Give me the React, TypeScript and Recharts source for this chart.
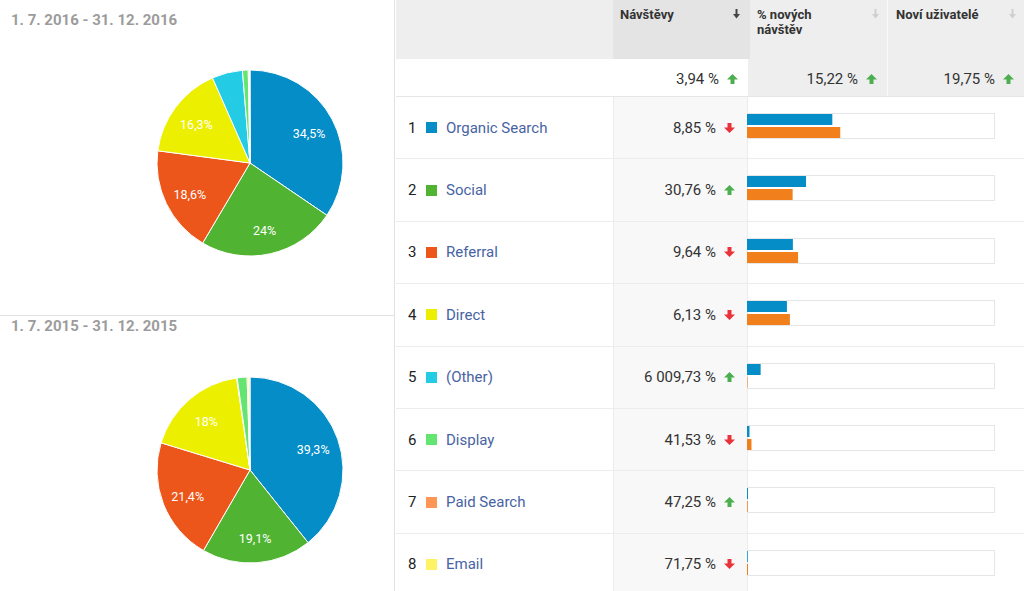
import { PieChart, Pie, Cell, BarChart, Bar, XAxis, YAxis } from "recharts";

const CHANNELS = [
  "Organic Search",
  "Social",
  "Referral",
  "Direct",
  "(Other)",
  "Display",
  "Paid Search",
  "Email",
];
const CHANNEL_COLORS = [
  "#058dc7",
  "#50b432",
  "#ed561b",
  "#edef00",
  "#24cbe5",
  "#64e572",
  "#ff9655",
  "#fff263",
];

// share of visits per channel (pie slices)
const SHARE_2016 = [34.5, 24, 18.6, 16.3, 5.3, 1.0, 0.2, 0.1];
const SHARE_2015 = [39.3, 19.1, 21.4, 18, 0.1, 1.7, 0.2, 0.3];

// visits bars (relative to current period total)
const VISITS_CURRENT = [34.4, 23.8, 18.5, 16.1, 5.5, 1.0, 0.4, 0.3];
const VISITS_PREVIOUS = [37.6, 18.4, 20.6, 17.3, 0.2, 1.8, 0.3, 0.4];

const CHANGE_LABELS = [
  "8,85 %",
  "30,76 %",
  "9,64 %",
  "6,13 %",
  "6 009,73 %",
  "41,53 %",
  "47,25 %",
  "71,75 %",
];
const CHANGE_UP = [false, true, false, false, true, false, true, false];

const COLUMN_TITLES = ["Návštěvy", "% nových\nnávštěv", "Noví uživatelé"];
const SUMMARY_LABELS = ["3,94 %", "15,22 %", "19,75 %"];
const PERIOD_LABELS = ["1. 7. 2016 - 31. 12. 2016", "1. 7. 2015 - 31. 12. 2015"];

const FONT = "Roboto, Arial, sans-serif";
const RADIAN = Math.PI / 180;

const TABLE_X = 396;
const COL2_X = 613;
const COL3_X = 748;
const COL4_X = 887;
const HEADER_H = 59;
const ROW_TOP = 97;
const ROW_H = 62.4;

function renderSliceLabel(props: any) {
  const { cx, cy, midAngle, outerRadius, value } = props;
  if (value < 10) return null;
  const r = outerRadius * 0.72;
  const x = cx + r * Math.cos(-midAngle * RADIAN);
  const y = cy + r * Math.sin(-midAngle * RADIAN) + 2;
  return (
    <text
      x={x}
      y={y}
      fill="#fff"
      fontSize={12.5}
      fontFamily={FONT}
      textAnchor="middle"
      dominantBaseline="central"
    >
      {String(value).replace(".", ",")}%
    </text>
  );
}

function PeriodPie({ values, top }: { values: number[]; top: number }) {
  const data = CHANNELS.map((name, i) => ({ name, value: values[i] }));
  return (
    <div style={{ position: "absolute", left: 145, top, width: 210, height: 210 }}>
      <PieChart width={210} height={210} margin={{ top: 5, right: 5, bottom: 5, left: 5 }}>
        <Pie
          data={data}
          dataKey="value"
          cx={100}
          cy={100}
          outerRadius={93}
          startAngle={90}
          endAngle={-270}
          stroke="#fff"
          strokeWidth={1}
          label={renderSliceLabel}
          labelLine={false}
          isAnimationActive={false}
        >
          {data.map((d, i) => (
            <Cell key={d.name} fill={CHANNEL_COLORS[i]} />
          ))}
        </Pie>
      </PieChart>
    </div>
  );
}

function ChangeArrow({ up }: { up: boolean }) {
  const pts = up
    ? "5.5,0 11,5.5 7.5,5.5 7.5,10 3.5,10 3.5,5.5 0,5.5"
    : "5.5,10 11,4.5 7.5,4.5 7.5,0 3.5,0 3.5,4.5 0,4.5";
  return (
    <svg width={11} height={10} style={{ display: "block" }}>
      <polygon points={pts} fill={up ? "#4cae4f" : "#e8333a"} />
    </svg>
  );
}

function SortArrow({ color }: { color: string }) {
  return (
    <svg width={7} height={10} style={{ position: "absolute", right: 8, top: 9 }}>
      <rect x={2.5} y={0} width={2} height={6} fill={color} />
      <polygon points="0,5 7,5 3.5,9.5" fill={color} />
    </svg>
  );
}

function ValueCell({ label, up, right }: { label: string; up: boolean; right: number }) {
  return (
    <div
      style={{
        position: "absolute",
        inset: 0,
        display: "flex",
        alignItems: "center",
        justifyContent: "flex-end",
        gap: 8,
        paddingRight: right,
        fontSize: 15,
        color: "#333",
      }}
    >
      <span>{label}</span>
      <ChangeArrow up={up} />
    </div>
  );
}

function VisitsBar({ index }: { index: number }) {
  const data = [
    { name: CHANNELS[index], current: VISITS_CURRENT[index], previous: VISITS_PREVIOUS[index] },
  ];
  return (
    <div
      style={{
        position: "absolute",
        left: COL3_X - 1 - TABLE_X,
        top: 16,
        width: 248,
        height: 26,
        border: "1px solid #e6e6e6",
        boxSizing: "border-box",
      }}
    >
      <div style={{ position: "absolute", left: -1, top: -1 }}>
        <BarChart
          width={248}
          height={26}
          data={data}
          layout="vertical"
          margin={{ top: 0, right: 0, bottom: 0, left: 0 }}
          barGap={2}
        >
          <XAxis type="number" domain={[0, 100]} hide />
          <YAxis type="category" dataKey="name" hide />
          <Bar dataKey="current" fill="#058dc7" barSize={11} isAnimationActive={false} />
          <Bar dataKey="previous" fill="#f07f1c" barSize={11} isAnimationActive={false} />
        </BarChart>
      </div>
    </div>
  );
}

export default function App() {
  const headerLefts = [COL2_X, COL3_X, COL4_X];
  const headerRights = [COL3_X, COL4_X, 1024];

  return (
    <div
      style={{
        position: "absolute",
        left: 0,
        top: 0,
        width: 1024,
        height: 591,
        overflow: "hidden",
        background: "#fff",
        fontFamily: FONT,
      }}
    >
      {/* left panel */}
      <div
        style={{
          position: "absolute",
          left: 394,
          top: 0,
          width: 1,
          height: 591,
          background: "#e2e2e2",
        }}
      />
      <div
        style={{
          position: "absolute",
          left: 0,
          top: 315,
          width: 394,
          height: 1,
          background: "#e2e2e2",
        }}
      />
      {PERIOD_LABELS.map((label, i) => (
        <div
          key={label}
          style={{
            position: "absolute",
            left: 11,
            top: i === 0 ? 11 : 317,
            fontSize: 15,
            lineHeight: "18px",
            fontWeight: 700,
            color: "#9c9c9c",
            whiteSpace: "nowrap",
          }}
        >
          {label}
        </div>
      ))}
      <PeriodPie values={SHARE_2016} top={58} />
      <PeriodPie values={SHARE_2015} top={365} />

      {/* table header */}
      <div
        style={{
          position: "absolute",
          left: TABLE_X,
          top: 0,
          width: 1024 - TABLE_X,
          height: ROW_TOP,
          background: "#eeeeee",
        }}
      />
      <div
        style={{
          position: "absolute",
          left: TABLE_X,
          top: HEADER_H,
          width: COL3_X - TABLE_X,
          height: ROW_TOP - HEADER_H,
          background: "#fff",
        }}
      />
      <div
        style={{
          position: "absolute",
          left: COL2_X,
          top: 0,
          width: COL3_X - COL2_X + 2,
          height: HEADER_H,
          background: "#e4e4e4",
        }}
      />
      <div
        style={{
          position: "absolute",
          left: COL4_X,
          top: 0,
          width: 1,
          height: ROW_TOP,
          background: "#f9f9f9",
        }}
      />
      {COLUMN_TITLES.map((title, i) => (
        <div
          key={title}
          style={{
            position: "absolute",
            left: headerLefts[i] + (i === 0 ? 0 : 2),
            top: 0,
            width: headerRights[i] - headerLefts[i] - (i === 0 ? 0 : 2),
            height: ROW_TOP,
          }}
        >
          <div
            style={{
              position: "absolute",
              left: 7,
              top: 7,
              fontSize: 13,
              lineHeight: "15px",
              fontWeight: 700,
              color: "#333",
              whiteSpace: "pre",
            }}
          >
            {title}
          </div>
          <SortArrow color={i === 0 ? "#444" : "#cfcfcf"} />
          <div style={{ position: "absolute", left: 0, right: 0, top: HEADER_H + 2, bottom: 0 }}>
            <ValueCell label={SUMMARY_LABELS[i]} up={true} right={10} />
          </div>
        </div>
      ))}
      <div
        style={{
          position: "absolute",
          left: TABLE_X,
          top: ROW_TOP - 1,
          width: 1024 - TABLE_X,
          height: 1,
          background: "#e6e6e6",
        }}
      />

      {/* table rows */}
      {CHANNELS.map((name, i) => (
        <div
          key={name}
          style={{
            position: "absolute",
            left: TABLE_X,
            top: ROW_TOP + i * ROW_H,
            width: 1024 - TABLE_X,
            height: ROW_H,
            borderBottom: "1px solid #ececec",
            boxSizing: "border-box",
          }}
        >
          <div
            style={{
              position: "absolute",
              left: COL2_X - TABLE_X,
              top: 0,
              width: COL3_X - COL2_X,
              height: "100%",
              background: "#f8f8f8",
              borderLeft: "1px solid #ececec",
              borderRight: "1px solid #ececec",
              boxSizing: "border-box",
            }}
          >
            <ValueCell label={CHANGE_LABELS[i]} up={CHANGE_UP[i]} right={12} />
          </div>
          <div
            style={{
              position: "absolute",
              left: 0,
              top: 0,
              height: "100%",
              display: "flex",
              alignItems: "center",
              fontSize: 15,
            }}
          >
            <span style={{ position: "absolute", left: 12, color: "#222", whiteSpace: "nowrap" }}>
              {i + 1}
            </span>
            <span
              style={{
                position: "absolute",
                left: 30,
                width: 11,
                height: 11,
                background: CHANNEL_COLORS[i],
              }}
            />
            <span
              style={{ position: "absolute", left: 50, color: "#4763a3", whiteSpace: "nowrap" }}
            >
              {name}
            </span>
          </div>
          <VisitsBar index={i} />
        </div>
      ))}
    </div>
  );
}
